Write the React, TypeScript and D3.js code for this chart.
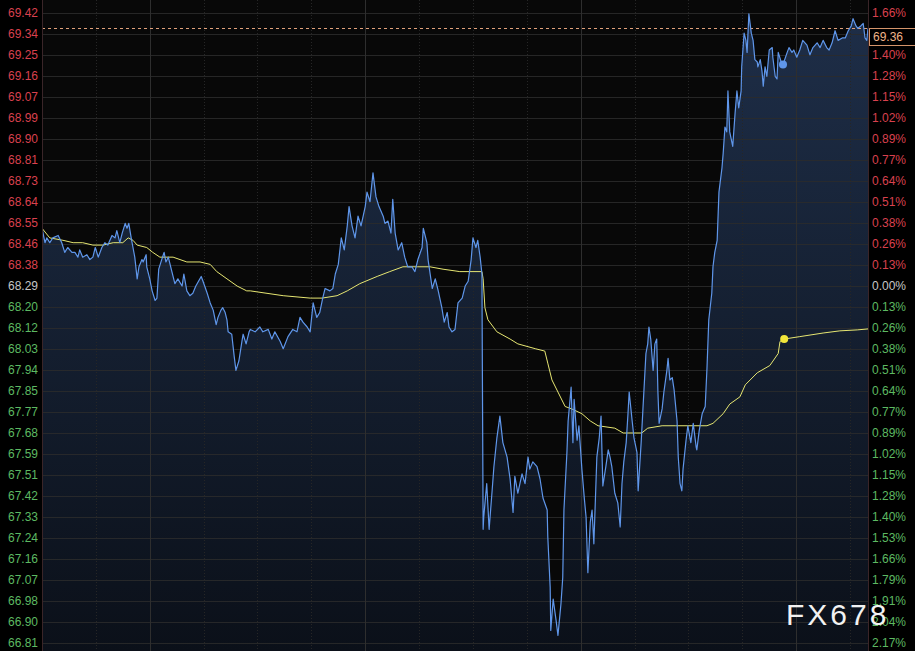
import * as d3 from "d3";

// left axis price labels (top -> bottom) and matching % change labels on the right
const priceLabels = [
  "69.42", "69.34", "69.25", "69.16", "69.07", "68.99", "68.90", "68.81", "68.73", "68.64", "68.55",
  "68.46", "68.38", "68.29", "68.20", "68.12", "68.03", "67.94", "67.85", "67.77", "67.68", "67.59",
  "67.51", "67.42", "67.33", "67.24", "67.16", "67.07", "66.98", "66.90", "66.81",
];
const pctLabels = [
  "1.66%", "1.53%", "1.40%", "1.28%", "1.15%", "1.02%", "0.89%", "0.77%", "0.64%", "0.51%", "0.38%",
  "0.26%", "0.13%", "0.00%", "0.13%", "0.26%", "0.38%", "0.51%", "0.64%", "0.77%", "0.89%", "1.02%",
  "1.15%", "1.28%", "1.40%", "1.53%", "1.66%", "1.79%", "1.91%", "2.04%", "2.17%",
];
const zeroRow = 13;
const closePrice = 68.29;
const topPct = 0.0166;
const bottomPct = 0.0217;
const lastLabel = "69.36";
const lastPrice = 69.36;

const sessionMinutes = 1380;
const majorGridMinutes = [180, 540, 900, 1260];
const minorGridMinutes = [90, 270, 360, 450, 630, 720, 810, 990, 1080, 1170, 1350];
const markerMinute = 1238;

// [minute from open, price]
const priceSeries: [number, number][] = [
  [0, 68.53], [5, 68.47], [8, 68.49], [13, 68.47], [18, 68.49], [27, 68.5], [33, 68.47], [38, 68.43],
  [43, 68.45], [50, 68.43], [55, 68.43], [60, 68.41], [63, 68.44], [68, 68.41], [75, 68.42], [80, 68.4],
  [85, 68.41], [89, 68.45], [94, 68.41], [100, 68.45], [105, 68.47], [110, 68.46], [117, 68.5], [122, 68.49],
  [125, 68.52], [130, 68.47], [134, 68.51], [139, 68.55], [142, 68.53], [145, 68.55], [149, 68.49], [152, 68.45],
  [155, 68.41], [159, 68.32], [162, 68.37], [167, 68.4], [169, 68.39], [174, 68.42], [175, 68.37], [180, 68.32],
  [184, 68.27], [189, 68.23], [192, 68.24], [195, 68.36], [200, 68.4], [204, 68.43], [207, 68.39], [211, 68.41],
  [217, 68.35], [222, 68.3], [227, 68.32], [234, 68.29], [237, 68.34], [242, 68.27], [247, 68.25], [252, 68.26],
  [257, 68.29], [266, 68.33], [269, 68.31], [276, 68.26], [281, 68.22], [286, 68.19], [291, 68.13], [294, 68.16],
  [299, 68.19], [302, 68.2], [306, 68.18], [309, 68.15], [311, 68.1], [317, 68.09], [321, 68.0], [324, 67.94],
  [329, 67.98], [334, 68.06], [336, 68.09], [341, 68.05], [346, 68.1], [348, 68.11], [356, 68.1], [364, 68.12],
  [369, 68.1], [378, 68.11], [384, 68.07], [389, 68.1], [398, 68.06], [403, 68.03], [411, 68.08], [419, 68.11],
  [426, 68.1], [431, 68.16], [436, 68.14], [443, 68.12], [448, 68.1], [453, 68.22], [459, 68.16], [464, 68.18],
  [469, 68.24], [473, 68.28], [481, 68.27], [486, 68.28], [490, 68.34], [495, 68.38], [500, 68.49], [505, 68.44],
  [510, 68.54], [513, 68.62], [518, 68.54], [523, 68.49], [528, 68.58], [533, 68.54], [540, 68.62], [543, 68.68],
  [548, 68.64], [553, 68.76], [558, 68.66], [563, 68.62], [570, 68.58], [573, 68.55], [578, 68.56], [583, 68.51],
  [586, 68.65], [590, 68.51], [595, 68.44], [601, 68.47], [606, 68.41], [611, 68.37], [618, 68.37], [623, 68.35],
  [628, 68.4], [635, 68.45], [637, 68.53], [643, 68.47], [645, 68.4], [652, 68.28], [657, 68.32], [662, 68.27],
  [668, 68.2], [672, 68.14], [677, 68.18], [680, 68.12], [685, 68.1], [690, 68.11], [695, 68.22], [702, 68.24],
  [707, 68.29], [712, 68.31], [717, 68.4], [720, 68.49], [725, 68.45], [728, 68.48], [732, 68.41], [735, 68.34],
  [737, 67.28], [738, 67.33], [743, 67.47], [747, 67.28], [752, 67.44], [755, 67.54], [760, 67.66], [765, 67.75],
  [770, 67.64], [777, 67.58], [782, 67.49], [787, 67.35], [790, 67.5], [795, 67.43], [802, 67.51], [807, 67.47],
  [812, 67.58], [815, 67.53], [820, 67.56], [827, 67.54], [832, 67.49], [837, 67.41], [844, 67.36], [845, 67.25],
  [849, 67.04], [850, 66.86], [854, 66.99], [859, 66.9], [862, 66.84], [867, 66.97], [870, 67.08], [872, 67.36],
  [877, 67.6], [879, 67.73], [884, 67.87], [887, 67.64], [889, 67.82], [894, 67.65], [897, 67.71], [902, 67.53],
  [906, 67.41], [909, 67.33], [912, 67.1], [916, 67.31], [919, 67.36], [922, 67.22], [927, 67.58], [931, 67.66],
  [934, 67.75], [937, 67.46], [942, 67.54], [946, 67.61], [949, 67.58], [952, 67.54], [957, 67.43], [962, 67.39],
  [966, 67.29], [969, 67.47], [972, 67.56], [976, 67.64], [979, 67.76], [981, 67.85], [986, 67.73], [989, 67.66],
  [994, 67.6], [996, 67.44], [1001, 67.64], [1004, 67.78], [1009, 68.01], [1012, 68.05], [1014, 68.12], [1017, 68.07],
  [1021, 67.94], [1024, 68.05], [1027, 68.07], [1029, 67.85], [1031, 67.72], [1036, 67.78], [1039, 67.85], [1044, 67.94],
  [1046, 67.99], [1049, 67.9], [1053, 67.91], [1056, 67.86], [1061, 67.73], [1063, 67.58], [1066, 67.47], [1069, 67.44],
  [1071, 67.53], [1076, 67.65], [1079, 67.71], [1084, 67.64], [1088, 67.72], [1093, 67.62], [1094, 67.61], [1098, 67.69],
  [1103, 67.76], [1108, 67.79], [1111, 67.95], [1114, 68.15], [1119, 68.26], [1121, 68.37], [1124, 68.43], [1128, 68.48],
  [1131, 68.68], [1136, 68.78], [1138, 68.84], [1141, 68.95], [1144, 68.93], [1146, 69.1], [1149, 68.93], [1154, 68.87],
  [1158, 69.01], [1161, 69.1], [1164, 69.03], [1168, 69.1], [1169, 69.2], [1173, 69.34], [1176, 69.31], [1178, 69.26],
  [1181, 69.42], [1185, 69.34], [1188, 69.31], [1191, 69.23], [1195, 69.22], [1196, 69.2], [1200, 69.23], [1203, 69.18],
  [1205, 69.12], [1208, 69.2], [1211, 69.16], [1215, 69.27], [1220, 69.28], [1221, 69.24], [1225, 69.16], [1228, 69.15],
  [1230, 69.26], [1235, 69.22], [1238, 69.21], [1245, 69.26], [1248, 69.28], [1253, 69.26], [1256, 69.27], [1261, 69.24],
  [1266, 69.27], [1271, 69.31], [1278, 69.29], [1283, 69.25], [1288, 69.28], [1295, 69.3], [1300, 69.28], [1305, 69.31],
  [1311, 69.28], [1315, 69.27], [1320, 69.3], [1325, 69.35], [1330, 69.31], [1337, 69.32], [1342, 69.32], [1347, 69.35],
  [1352, 69.37], [1355, 69.4], [1360, 69.37], [1363, 69.36], [1368, 69.37], [1372, 69.38], [1375, 69.32], [1378, 69.31],
  [1380, 69.36],
];

// average price line
const avgSeries: [number, number][] = [
  [0, 68.53], [13, 68.49], [35, 68.48], [52, 68.47], [68, 68.47], [85, 68.46], [102, 68.46], [119, 68.47],
  [135, 68.47], [144, 68.49], [152, 68.48], [159, 68.46], [175, 68.45], [185, 68.43], [197, 68.41], [219, 68.41],
  [242, 68.39], [264, 68.39], [281, 68.38], [292, 68.35], [309, 68.32], [326, 68.29], [342, 68.27], [348, 68.27],
  [403, 68.25], [448, 68.24], [468, 68.24], [493, 68.25], [510, 68.27], [531, 68.3], [560, 68.33], [581, 68.35],
  [603, 68.37], [627, 68.37], [648, 68.37], [670, 68.36], [698, 68.35], [735, 68.35], [737, 68.32], [740, 68.2],
  [745, 68.15], [760, 68.1], [782, 68.07], [795, 68.05], [824, 68.03], [840, 68.02], [845, 67.97], [852, 67.9],
  [862, 67.85], [874, 67.79], [885, 67.78], [902, 67.76], [916, 67.73], [929, 67.71], [957, 67.7], [971, 67.68],
  [991, 67.68], [1002, 67.68], [1012, 67.7], [1036, 67.71], [1058, 67.71], [1079, 67.71], [1111, 67.71], [1121, 67.72],
  [1138, 67.76], [1149, 67.8], [1166, 67.83], [1175, 67.88], [1195, 67.93], [1216, 67.96], [1230, 68.01], [1233, 68.06],
  [1240, 68.07], [1266, 68.08], [1305, 68.095], [1333, 68.104], [1362, 68.108], [1380, 68.112],
];

const W = 915;
const H = 651;
const left = 42;
const right = 868;
const top = 13;
const bottom = 643;

const red = "#d9414e";
const green = "#5db962";
const grey = "#c6c6c6";

export default function App() {
  const x = d3.scaleLinear().domain([0, sessionMinutes]).range([left, right]);
  const y = d3
    .scaleLinear()
    .domain([closePrice * (1 - bottomPct), closePrice * (1 + topPct)])
    .range([bottom, top]);
  const row = d3.scalePoint<string>().domain(priceLabels).range([top, bottom]);

  const line = d3
    .line<[number, number]>()
    .x((d) => x(d[0]))
    .y((d) => y(d[1]));
  const area = d3
    .area<[number, number]>()
    .x((d) => x(d[0]))
    .y0(H)
    .y1((d) => y(d[1]));

  const bisect = d3.bisector((d: [number, number]) => d[0]).left;
  const pMark = priceSeries[Math.min(bisect(priceSeries, markerMinute), priceSeries.length - 1)];
  const aMark = avgSeries[Math.min(bisect(avgSeries, markerMinute), avgSeries.length - 1)];

  const labelColor = (i: number) => (i < zeroRow ? red : i === zeroRow ? grey : green);
  const lastY = y(lastPrice);

  return (
    <svg
      width={W}
      height={H}
      style={{ position: "absolute", left: 0, top: 0, background: "#000" }}
      fontFamily="'Liberation Sans', Arial, sans-serif"
    >
      <defs>
        <linearGradient id="fill" gradientUnits="userSpaceOnUse" x1={0} y1={top} x2={0} y2={H}>
          <stop offset="0%" stopColor="#1e2e48" />
          <stop offset="100%" stopColor="#0b1019" />
        </linearGradient>
        <clipPath id="plot">
          <rect x={left} y={0} width={right - left} height={H} />
        </clipPath>
      </defs>

      <rect x={left} y={0} width={right - left} height={H} fill="#080808" />

      <g clipPath="url(#plot)">
        <path d={area(priceSeries)!} fill="url(#fill)" />

        {priceLabels.map((l) => (
          <line key={l} x1={left} x2={right} y1={row(l)! + 0.5} y2={row(l)! + 0.5} stroke="#2b2b2b" strokeOpacity={0.85} />
        ))}
        {minorGridMinutes.map((m) => (
          <line key={m} x1={Math.round(x(m)) + 0.5} x2={Math.round(x(m)) + 0.5} y1={0} y2={H} stroke="#262626" strokeDasharray="1,2" />
        ))}
        {majorGridMinutes.map((m) => (
          <line key={m} x1={Math.round(x(m)) + 0.5} x2={Math.round(x(m)) + 0.5} y1={0} y2={H} stroke="#2e2e2e" />
        ))}

        <line x1={left} x2={right} y1={Math.round(lastY) + 0.5} y2={Math.round(lastY) + 0.5} stroke="#e0a07a" strokeDasharray="3,3" />

        <path d={line(avgSeries)!} fill="none" stroke="#e6e672" strokeWidth={1} />
        <path d={line(priceSeries)!} fill="none" stroke="#5f96ea" strokeWidth={1.2} strokeLinejoin="round" />

        <circle cx={x(pMark[0])} cy={y(pMark[1])} r={4} fill="#5f96ea" />
        <circle cx={x(aMark[0])} cy={y(aMark[1])} r={4} fill="#f2e63a" />
      </g>

      <line x1={left + 0.5} x2={left + 0.5} y1={0} y2={H} stroke="#3a2528" />
      <line x1={right + 0.5} x2={right + 0.5} y1={0} y2={H} stroke="#3a2528" />

      {priceLabels.map((l, i) => (
        <text key={l} x={8} y={row(l)!} dy="0.36em" fontSize={12} fill={labelColor(i)}>
          {l}
        </text>
      ))}
      {pctLabels.map((l, i) => (
        <text key={i} x={872} y={row(priceLabels[i])!} dy="0.36em" fontSize={12} fill={labelColor(i)}>
          {l}
        </text>
      ))}

      <rect x={869.5} y={Math.round(lastY) + 0.5} width={50} height={17} fill="#000" stroke="#d4946a" />
      <text x={873} y={Math.round(lastY) + 9} dy="0.36em" fontSize={12} fill="#f0b489">
        {lastLabel}
      </text>

      <text x={786} y={625} fontSize={30} letterSpacing={3} fill="#f2f2f2">
        FX678
      </text>
    </svg>
  );
}
